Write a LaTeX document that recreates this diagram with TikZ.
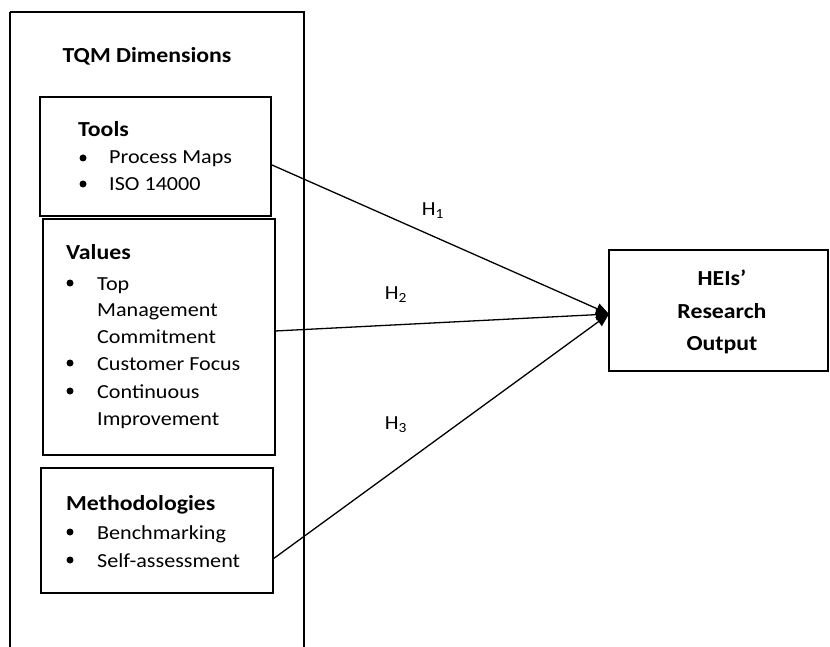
\documentclass[tikz,border=0pt]{standalone}
\usepackage{fontspec}
\setmainfont[FakeStretch=1.11]{Carlito}
\usetikzlibrary{arrows.meta}
\tikzset{
  box/.style={draw=black, line width=1.6bp},
  conn/.style={line width=1.3bp, -{Triangle[length=13bp,width=11bp]}},
  head/.style={anchor=base west, inner sep=0pt, font=\fontsize{21.5}{25}\selectfont\bfseries},
  item/.style={anchor=base west, inner sep=0pt, font=\fontsize{20}{24}\selectfont},
  bul/.style={circle, fill=black, inner sep=0pt, minimum size=7bp},
  hlab/.style={inner sep=0pt, font=\fontsize{20}{24}\selectfont},
}
\begin{document}
\begin{tikzpicture}[x=1bp,y=-1bp]
\useasboundingbox (0,0) rectangle (830,647);
% outer frame
\draw[box] (10,12) -- (304,12) -- (304,660) (10,12) -- (10,660);
\node[head, anchor=base] (tqm) at (147,63) {TQM Dimensions};

% Tools box
\node[box, minimum width=231bp, minimum height=119bp, inner sep=0pt] (tools) at (155.5,156.5) {};
\node[head] (toolsh) at (78,137) {Tools};
\node[bul] (b1) at (83,158) {};
\node[item] (t1) at (109,164) {Process Maps};
\begin{scope}
\clip (40,170) rectangle (271,189.5);
\node[bul] (b2) at (83,184) {};
\node[item] (t2) at (109,191) {ISO 14000};
\end{scope}

% Values box
\node[box, minimum width=232bp, minimum height=236bp, inner sep=0pt] (values) at (159,337) {};
\node[head] (valuesh) at (66,259) {Values};
\node[bul] (b3) at (70,283) {};
\node[item] (v1) at (97,290) {Top};
\node[item] (v2) at (97,316) {Management};
\node[item] (v3) at (97,343) {Commitment};
\node[bul] (b4) at (70,363) {};
\node[item] (v4) at (97,370) {Customer Focus};
\node[bul] (b5) at (70,391) {};
\node[item] (v5) at (97,398) {Continuous};
\node[item] (v6) at (97,425) {Improvement};

% Methodologies box
\node[box, minimum width=232bp, minimum height=125bp, inner sep=0pt] (meth) at (157,530.5) {};
\node[head] (methh) at (66,510) {Methodologies};
\node[bul] (b6) at (70,532) {};
\node[item] (m1) at (97,539) {Benchmarking};
\node[bul] (b7) at (70,560) {};
\node[item] (m2) at (97,567) {Self-assessment};

% Output box
\node[box, minimum width=219bp, minimum height=121bp, inner sep=0pt] (out) at (718.5,310.5) {};
\node[head, anchor=base] (o1) at (722,285) {HEIs’};
\node[head, anchor=base] (o2) at (722,318) {Research};
\node[head, anchor=base] (o3) at (722,350) {Output};

% connectors
\coordinate (tip) at (609,314);
\coordinate (s1) at (272,165);
\coordinate (s2) at (275,331);
\coordinate (s3) at (273,559);
\draw[conn] (s1) -- (tip);
\draw[conn] (s2) -- (tip);
\draw[conn] (s3) -- (tip);

\node[hlab] (h1) at (433,211) {H\textsubscript{1}};
\node[hlab] (h2) at (396,295) {H\textsubscript{2}};
\node[hlab] (h3) at (396,425) {H\textsubscript{3}};
\end{tikzpicture}
\end{document}
